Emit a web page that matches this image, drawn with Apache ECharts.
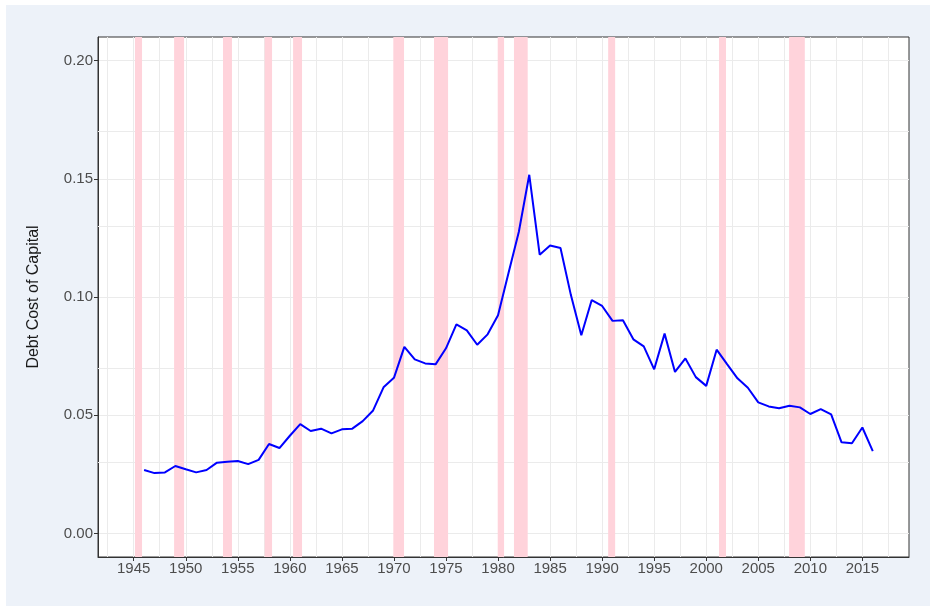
<!DOCTYPE html>
<html>
<head>
<meta charset="utf-8">
<script src="https://cdn.jsdelivr.net/npm/echarts@6/dist/echarts.min.js"></script>
<style>
  html, body { margin: 0; padding: 0; background: #ffffff; }
  #bg { position: absolute; left: 6px; top: 5px; right: 0; bottom: 0; background: #edf2f9; }
  #chart { position: absolute; left: 0; top: 0; width: 930px; height: 606px; }
</style>
</head>
<body>
<div id="bg"></div>
<div id="chart"></div>
<script>
const years = [1946, 1947, 1948, 1949, 1950, 1951, 1952, 1953, 1954, 1955,
  1956, 1957, 1958, 1959, 1960, 1961, 1962, 1963, 1964, 1965,
  1966, 1967, 1968, 1969, 1970, 1971, 1972, 1973, 1974, 1975,
  1976, 1977, 1978, 1979, 1980, 1981, 1982, 1983, 1984, 1985,
  1986, 1987, 1988, 1989, 1990, 1991, 1992, 1993, 1994, 1995,
  1996, 1997, 1998, 1999, 2000, 2001, 2002, 2003, 2004, 2005,
  2006, 2007, 2008, 2009, 2010, 2011, 2012, 2013, 2014, 2015, 2016];
const debtCost = [0.0268, 0.0255, 0.0258, 0.0285, 0.0271, 0.0258, 0.0268, 0.0299, 0.0303, 0.0306,
  0.0293, 0.0311, 0.0378, 0.0361, 0.0413, 0.0462, 0.0433, 0.0443, 0.0423, 0.0440,
  0.0443, 0.0475, 0.0520, 0.0618, 0.0658, 0.0789, 0.0736, 0.0719, 0.0715, 0.0783,
  0.0884, 0.0859, 0.0798, 0.0842, 0.0923, 0.1100, 0.1276, 0.1517, 0.1179, 0.1218,
  0.1207, 0.1008, 0.0838, 0.0987, 0.0962, 0.0899, 0.0902, 0.0821, 0.0791, 0.0694,
  0.0845, 0.0683, 0.0740, 0.0661, 0.0624, 0.0777, 0.0716, 0.0656, 0.0616, 0.0554,
  0.0537, 0.0529, 0.0540, 0.0533, 0.0505, 0.0526, 0.0503, 0.0385, 0.0381, 0.0448, 0.0348];
const recessionStart = [1945.12, 1948.88, 1953.58, 1957.58, 1960.31, 1969.94, 1973.85, 1979.97, 1981.53, 1990.58, 2001.23, 2007.96];
const recessionEnd   = [1945.80, 1949.84, 1954.44, 1958.29, 1961.17, 1970.97, 1975.20, 1980.58, 1982.85, 1991.25, 2001.90, 2009.47];
const xTickLabels = [1945, 1950, 1955, 1960, 1965, 1970, 1975, 1980, 1985, 1990, 1995, 2000, 2005, 2010, 2015];
const xMinorGrid = [1942.5, 1947.5, 1952.5, 1957.5, 1962.5, 1967.5, 1972.5, 1977.5, 1982.5, 1987.5, 1992.5, 1997.5, 2002.5, 2007.5, 2012.5, 2017.5];
const yTickLabels = [0, 0.05, 0.10, 0.15, 0.20];
const yMinorGrid = [0.025, 0.075, 0.125, 0.175];
const yTitle = 'Debt Cost of Capital';

const xMin = 1941.57, xMax = 2019.48;
const yMin = -0.01, yMax = 0.21;

const lineData = years.map((y, i) => [y, debtCost[i]]);
const areaData = recessionStart.map((s, i) => [{ xAxis: s }, { xAxis: recessionEnd[i] }]);
const gridLineData = xMinorGrid.map(v => ({ xAxis: v })).concat(yMinorGrid.map(v => ({ yAxis: v })));

const chart = echarts.init(document.getElementById('chart'), null, { renderer: 'canvas' });
const tickFont = { color: '#4d4d4d', fontSize: 15, fontFamily: '"Liberation Sans", Arial, sans-serif' };

chart.setOption({
  animation: false,
  backgroundColor: 'transparent',
  grid: {
    left: 98, top: 37, right: 21, bottom: 49,
    show: true, backgroundColor: '#ffffff', borderColor: '#333333', borderWidth: 1
  },
  xAxis: {
    type: 'value', min: xMin, max: xMax,
    axisLine: { show: true, onZero: false, lineStyle: { color: '#333333', width: 1 } },
    axisTick: { show: true, length: 4, customValues: xTickLabels, lineStyle: { color: '#333333' } },
    axisLabel: Object.assign({ customValues: xTickLabels, margin: 4, formatter: v => String(Math.round(v)) }, tickFont),
    splitLine: { show: true, lineStyle: { color: '#ebebeb', width: 1 } }
  },
  yAxis: {
    type: 'value', min: yMin, max: yMax,
    axisLine: { show: true, onZero: false, lineStyle: { color: '#333333', width: 1 } },
    axisTick: { show: true, length: 4, customValues: yTickLabels, lineStyle: { color: '#333333' } },
    axisLabel: Object.assign({ customValues: yTickLabels, margin: 5, formatter: v => v.toFixed(2) }, tickFont),
    splitLine: { show: true, lineStyle: { color: '#ebebeb', width: 1 } }
  },
  graphic: [{
    type: 'text', x: 34, y: 297, rotation: Math.PI / 2,
    style: { text: yTitle, fill: '#1a1a1a', font: '16px "Liberation Sans", Arial, sans-serif', textAlign: 'center', textVerticalAlign: 'middle' }
  }],
  series: [
    {
      type: 'line', data: [], z: 1, silent: true,
      markLine: {
        z: 1, silent: true, symbol: 'none', animation: false,
        label: { show: false },
        lineStyle: { color: '#ebebeb', width: 1, type: 'solid' },
        emphasis: { disabled: true },
        data: gridLineData
      }
    },
    {
      type: 'line', data: [], z: 2, silent: true,
      markArea: {
        z: 2, silent: true,
        itemStyle: { color: '#ffd3db', opacity: 1 },
        emphasis: { disabled: true },
        data: areaData
      }
    },
    {
      type: 'line', data: lineData, z: 3,
      showSymbol: false, symbol: 'none',
      lineStyle: { color: '#0000ff', width: 2 },
      itemStyle: { color: '#0000ff' }
    }
  ]
});
</script>
</body>
</html>
